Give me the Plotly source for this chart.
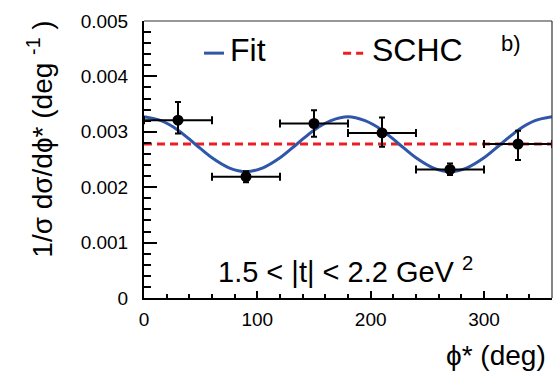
import plotly.graph_objects as go

# ---- data ----
phi_centers = [30, 90, 150, 210, 270, 330]
phi_halfwidth = [30, 30, 30, 30, 30, 30]
dsig = [0.00321, 0.00219, 0.00315, 0.00298, 0.00232, 0.00278]
err_up = [0.00033, 0.00010, 0.00024, 0.00028, 0.00011, 0.00024]
err_dn = [0.00024, 0.00010, 0.00024, 0.00025, 0.00010, 0.00029]

fit_phi = [0, 15, 30, 45, 60, 75, 90, 105, 120, 135, 150, 165, 180,
           195, 210, 225, 240, 255, 270, 285, 300, 315, 330, 345, 360]
fit_val = [0.00327, 0.00320, 0.00303, 0.00278, 0.00253, 0.00235, 0.00228,
           0.00235, 0.00253, 0.00278, 0.00303, 0.00320, 0.00327,
           0.00320, 0.00303, 0.00278, 0.00253, 0.00235, 0.00228,
           0.00235, 0.00253, 0.00278, 0.00303, 0.00320, 0.00327]

schc_phi = [0, 360]
schc_val = [0.00278, 0.00278]

x_ticks = [0, 100, 200, 300]
y_ticks = [0, 0.001, 0.002, 0.003, 0.004, 0.005]
y_ticklabels = ["0", "0.001", "0.002", "0.003", "0.004", "0.005"]

FONT = "Liberation Sans, Arial, Helvetica, sans-serif"
BLUE = "#2f56a8"
RED = "#ee1c24"

fig = go.Figure()

fig.add_trace(go.Scatter(
    x=schc_phi, y=schc_val, mode="lines",
    line=dict(color=RED, width=3, dash="8px,5px"),
    showlegend=False, hoverinfo="skip"))

fig.add_trace(go.Scatter(
    x=fit_phi, y=fit_val, mode="lines", line_shape="spline",
    line=dict(color=BLUE, width=3),
    showlegend=False, hoverinfo="skip"))

fig.add_trace(go.Scatter(
    x=phi_centers, y=dsig, mode="markers",
    marker=dict(color="black", size=11, symbol="circle"),
    error_x=dict(type="data", array=phi_halfwidth, color="black",
                 thickness=2, width=4),
    error_y=dict(type="data", symmetric=False, array=err_up,
                 arrayminus=err_dn, color="black", thickness=2, width=3),
    showlegend=False))

fig.update_layout(
    width=560, height=372,
    margin=dict(l=144, r=8, t=21, b=74),
    paper_bgcolor="white", plot_bgcolor="white",
    font=dict(family=FONT, color="black"),
    showlegend=False,
)

fig.update_xaxes(
    range=[0, 360], tickmode="array", tickvals=x_ticks,
    ticktext=[str(v) for v in x_ticks],
    ticks="inside", ticklen=7, tickwidth=1.5, tickcolor="black",
    minor=dict(ticks="inside", dtick=20, tick0=0, ticklen=4,
               tickcolor="black", tickwidth=1.5),
    showline=True, linewidth=2, linecolor="black",
    showgrid=False, zeroline=False,
    tickfont=dict(size=19, family=FONT), ticklabelstandoff=3,
)
fig.update_yaxes(
    range=[0, 0.005], tickmode="array", tickvals=y_ticks,
    ticktext=y_ticklabels,
    ticks="inside", ticklen=13, tickwidth=1.5, tickcolor="black",
    minor=dict(ticks="inside", dtick=0.0002, tick0=0, ticklen=7,
               tickcolor="black", tickwidth=1.5),
    showline=True, linewidth=2, linecolor="black",
    showgrid=False, zeroline=False,
    tickfont=dict(size=19, family=FONT), ticklabelstandoff=10,
)

# frame (top/right)
fig.add_shape(type="line", xref="paper", yref="paper", x0=0, x1=1, y0=1, y1=1,
              line=dict(color="#333333", width=1.2))
fig.add_shape(type="line", xref="paper", yref="paper", x0=1, x1=1, y0=0, y1=1,
              line=dict(color="#333333", width=1.2))

# legend (manual)
fig.add_shape(type="line", xref="paper", yref="paper", x0=0.147, x1=0.196,
              y0=0.884, y1=0.884, line=dict(color=BLUE, width=3))
fig.add_shape(type="line", xref="paper", yref="paper", x0=0.488, x1=0.537,
              y0=0.884, y1=0.884, line=dict(color=RED, width=3, dash="8px,5px"))
fig.add_annotation(text="Fit", xref="paper", yref="paper", x=0.205, y=0.895,
                   xanchor="left", yanchor="middle", showarrow=False,
                   font=dict(size=32, family=FONT))
fig.add_annotation(text="SCHC", xref="paper", yref="paper", x=0.553, y=0.895,
                   xanchor="left", yanchor="middle", showarrow=False,
                   font=dict(size=32, family=FONT))
fig.add_annotation(text="b)", xref="paper", yref="paper", x=0.87, y=0.917,
                   xanchor="left", yanchor="middle", showarrow=False,
                   font=dict(size=22, family=FONT))

fig.add_annotation(text="1.5 < |t| < 2.2 GeV <sup>2</sup>", xref="paper", yref="paper",
                   x=0.177, y=0.03, xanchor="left", yanchor="bottom", showarrow=False,
                   font=dict(size=29, family=FONT))

# axis titles
fig.add_annotation(text="1/σ dσ/dϕ* (deg <sup>-1</sup> )", xref="paper", yref="paper",
                   x=-0.255, y=0.575, xanchor="center", yanchor="middle",
                   textangle=-90, showarrow=False, font=dict(size=28, family=FONT))
fig.add_annotation(text="ϕ* (deg)", xref="paper", yref="paper",
                   x=0.99, y=-0.206, xanchor="right", yanchor="middle",
                   showarrow=False, font=dict(size=28, family=FONT))

fig.write_html("out.html")
